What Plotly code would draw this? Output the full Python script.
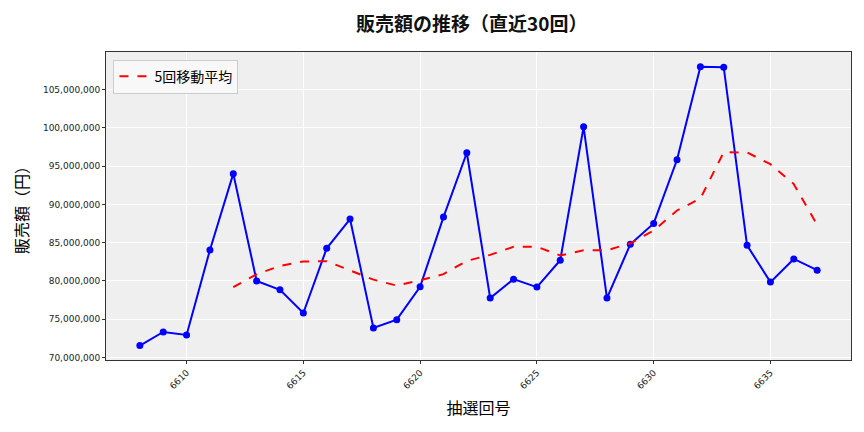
import plotly.graph_objects as go
import pandas as pd

draws = list(range(6608, 6638))
sales = [71560000, 73340000, 72950000, 84050000, 94030000, 80000000, 78850000, 75810000,
         84270000, 88090000, 73860000, 74940000, 79240000, 88350000, 96760000, 77760000,
         80240000, 79200000, 82710000, 100150000, 77760000, 84790000, 87520000, 95850000,
         108000000, 107950000, 84660000, 79850000, 82880000, 81410000]
ma5 = pd.Series(sales).rolling(5).mean().tolist()

y_ticks = [70000000, 75000000, 80000000, 85000000, 90000000, 95000000, 100000000, 105000000]
x_ticks = [6610, 6615, 6620, 6625, 6630, 6635]

CJK = "Noto Sans CJK JP"
fig = go.Figure()
fig.add_trace(go.Scatter(x=draws, y=sales, mode="lines+markers",
                         line=dict(color="#0000ff", width=2),
                         marker=dict(color="#0000ff", size=7),
                         showlegend=False))
fig.add_trace(go.Scatter(x=draws, y=ma5, mode="lines", name="5回移動平均",
                         line=dict(color="#ff0000", width=2, dash="dash")))

fig.update_layout(
    width=864, height=432,
    margin=dict(l=106, r=13, t=52, b=72),
    paper_bgcolor="white", plot_bgcolor="#efefef",
    title=dict(text="<b>販売額の推移（直近30回）</b>", x=0.546, xanchor="center",
               y=0.944, yanchor="middle",
               font=dict(family=CJK, size=19, color="#111")),
    legend=dict(x=0.01, y=0.975, xanchor="left", yanchor="top",
                bgcolor="rgba(248,248,248,0.9)", bordercolor="#cccccc", borderwidth=1,
                font=dict(family=CJK, size=14, color="#000")),
    font=dict(family="DejaVu Sans", color="#222"),
)
fig.update_xaxes(range=[6606.55, 6638.45], tickvals=x_ticks, tickangle=-45,
                 tickfont=dict(size=9), showgrid=True, gridcolor="white", gridwidth=1,
                 showline=True, linecolor="#333", linewidth=1, mirror=True,
                 ticks="outside", ticklen=3, tickcolor="#333", zeroline=False,
                 title=dict(text="抽選回号", font=dict(family=CJK, size=16, color="#000"), standoff=12))
fig.update_yaxes(range=[69670000, 109930000], tickvals=y_ticks,
                 ticktext=[f"{v:,}" for v in y_ticks], tickfont=dict(size=9),
                 showgrid=True, gridcolor="white", gridwidth=1,
                 showline=True, linecolor="#333", linewidth=1, mirror=True,
                 ticks="outside", ticklen=3, tickcolor="#333", zeroline=False,
                 title=dict(text="販売額（円）", font=dict(family=CJK, size=16, color="#000"), standoff=10))

fig.write_html("out.html")
